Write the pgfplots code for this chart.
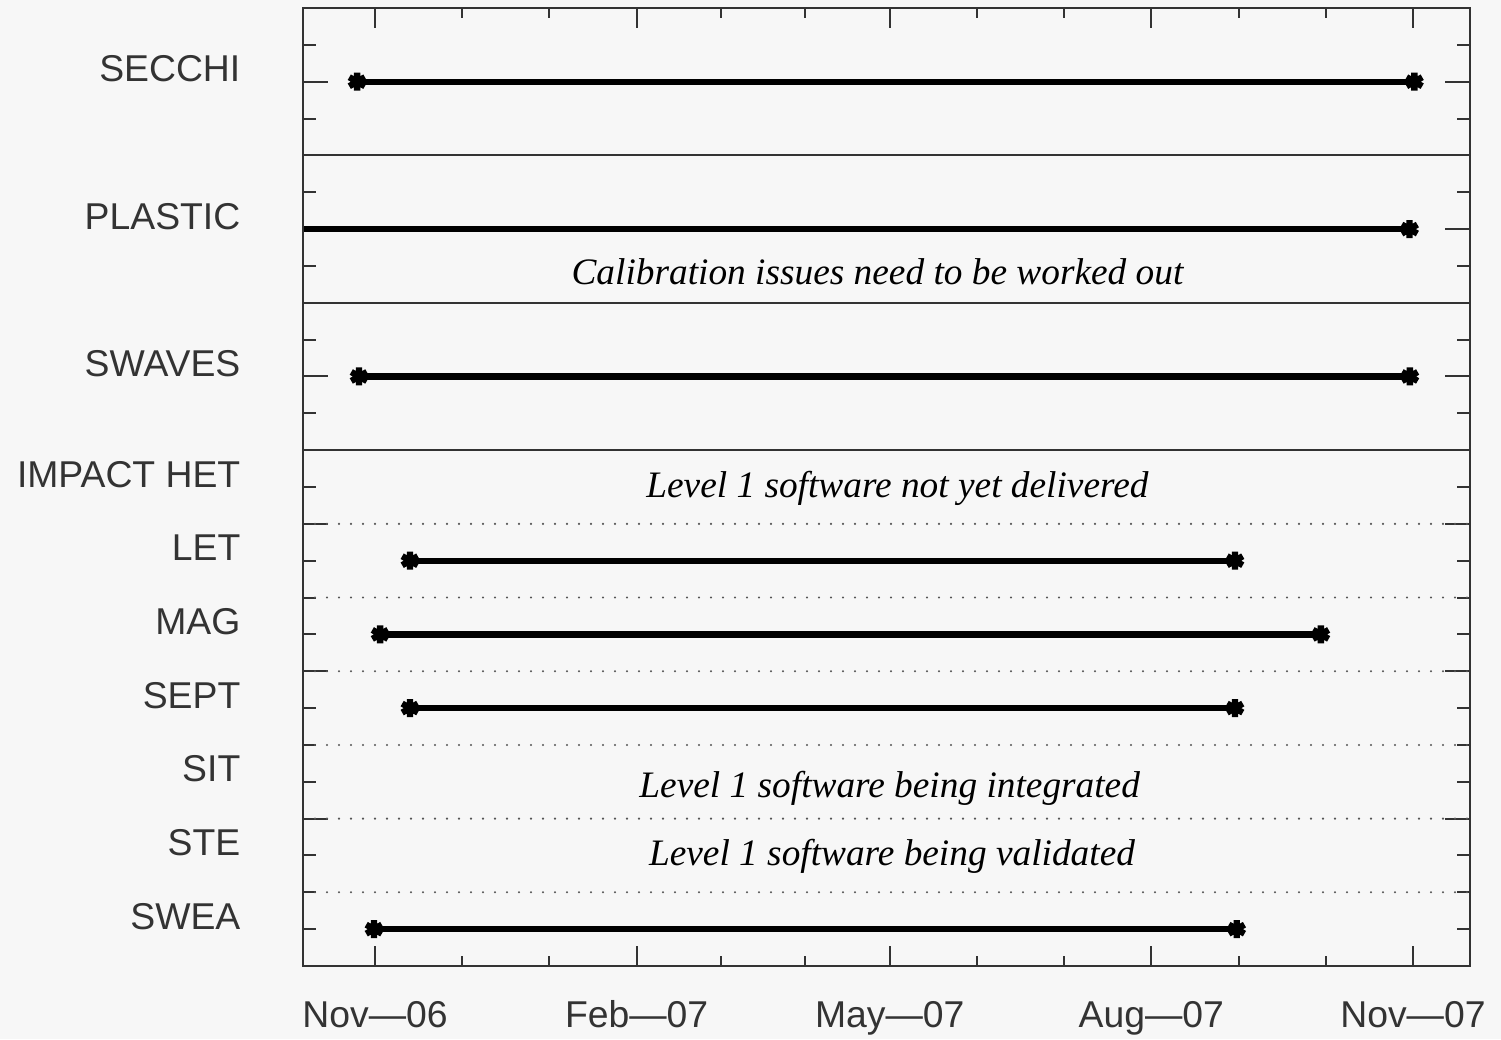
\documentclass[border=0pt]{standalone}
\usepackage{pgfplots}
\pgfplotsset{compat=1.18}
\usepackage{fontspec}
\setmainfont{Liberation Serif}
\newfontfamily\labfont{Liberation Sans}
\definecolor{bg}{HTML}{F7F7F7}
\definecolor{fr}{HTML}{333333}
\definecolor{dotc}{HTML}{555555}

\pgfplotsset{
  bar/.style={black, line width=1.9pt, mark=asterisk, mark size=2.7pt, mark options={solid}},
  sepline/.style={fr, line width=0.6pt, forget plot},
  dotline/.style={dotc, line width=0.7pt, line cap=round, dash pattern=on 0pt off 3.6pt, forget plot},
}

\begin{document}
\begin{tikzpicture}
\path[fill=bg, use as bounding box] (-90.9pt,-21.9pt) rectangle (359.4pt,289.8pt);

% axis with data and y ticks
\begin{axis}[
  scale only axis, width=350.1pt, height=287.4pt,
  xmin=-25.32, xmax=385.05, ymin=0, ymax=13,
  axis line style={fr, line width=0.7pt},
  xtick=\empty,
  ytick={0,2,...,12},
  minor ytick={0.5,1,...,12.5},
  yticklabels={},
  major tick length=7.5pt, minor tick length=3.9pt,
  tick style={fr, line width=0.6pt},
  clip=true,
]
% section separators
\addplot[sepline] coordinates {(-30,7) (400,7)};
\addplot[sepline] coordinates {(-30,9) (400,9)};
\addplot[sepline] coordinates {(-30,11) (400,11)};
\addplot[dotline] coordinates {(-25.32,1) (385.05,1)};
\addplot[dotline] coordinates {(-25.32,2) (385.05,2)};
\addplot[dotline] coordinates {(-25.32,3) (385.05,3)};
\addplot[dotline] coordinates {(-25.32,4) (385.05,4)};
\addplot[dotline] coordinates {(-25.32,5) (385.05,5)};
\addplot[dotline] coordinates {(-25.32,6) (385.05,6)};

% SECCHI
\addplot[bar] coordinates {(-6.3,12) (365.5,12)};
% PLASTIC (starts before the plotted range)
\addplot[bar, mark=none] coordinates {(-40,10) (363.8,10)};
\addplot[bar, only marks] coordinates {(363.8,10)};
% SWAVES
\addplot[bar] coordinates {(-5.6,8) (363.9,8)};
% LET
\addplot[bar] coordinates {(12.3,5.5) (302.4,5.5)};
% MAG
\addplot[bar] coordinates {(1.8,4.5) (332.6,4.5)};
% SEPT
\addplot[bar] coordinates {(12.3,3.5) (302.4,3.5)};
% SWEA
\addplot[bar] coordinates {(-0.35,0.5) (303.0,0.5)};
\end{axis}

% axis with x ticks, labels and annotations
\begin{axis}[
  scale only axis, width=350.1pt, height=287.4pt,
  xmin=-25.32, xmax=385.05, ymin=0, ymax=13,
  axis line style={fr, line width=0.7pt},
  xtick={0,92,181,273,365},
  xticklabels={Nov—06,Feb—07,May—07,Aug—07,Nov—07},
  minor xtick={30.67,61.33,121.67,151.33,211.67,242.33,303.67,334.33},
  ytick=\empty,
  major tick length=6pt, minor tick length=3pt,
  tick style={fr, line width=0.6pt},
  xticklabel style={font=\labfont\fontsize{11.2}{13}\selectfont, text=fr, anchor=base, yshift=-18.3pt},
  clip=false,
]
\node[anchor=base east, inner sep=0pt, xshift=-18.6pt, font=\labfont\fontsize{11.2}{13}\selectfont, text=fr] at (axis cs:-25.32,12) {SECCHI};
\node[anchor=base east, inner sep=0pt, xshift=-18.6pt, font=\labfont\fontsize{11.2}{13}\selectfont, text=fr] at (axis cs:-25.32,10) {PLASTIC};
\node[anchor=base east, inner sep=0pt, xshift=-18.6pt, font=\labfont\fontsize{11.2}{13}\selectfont, text=fr] at (axis cs:-25.32,8) {SWAVES};
\node[anchor=base east, inner sep=0pt, xshift=-18.6pt, font=\labfont\fontsize{11.2}{13}\selectfont, text=fr] at (axis cs:-25.32,6.5) {IMPACT HET};
\node[anchor=base east, inner sep=0pt, xshift=-18.6pt, font=\labfont\fontsize{11.2}{13}\selectfont, text=fr] at (axis cs:-25.32,5.5) {LET};
\node[anchor=base east, inner sep=0pt, xshift=-18.6pt, font=\labfont\fontsize{11.2}{13}\selectfont, text=fr] at (axis cs:-25.32,4.5) {MAG};
\node[anchor=base east, inner sep=0pt, xshift=-18.6pt, font=\labfont\fontsize{11.2}{13}\selectfont, text=fr] at (axis cs:-25.32,3.5) {SEPT};
\node[anchor=base east, inner sep=0pt, xshift=-18.6pt, font=\labfont\fontsize{11.2}{13}\selectfont, text=fr] at (axis cs:-25.32,2.5) {SIT};
\node[anchor=base east, inner sep=0pt, xshift=-18.6pt, font=\labfont\fontsize{11.2}{13}\selectfont, text=fr] at (axis cs:-25.32,1.5) {STE};
\node[anchor=base east, inner sep=0pt, xshift=-18.6pt, font=\labfont\fontsize{11.2}{13}\selectfont, text=fr] at (axis cs:-25.32,0.5) {SWEA};

\node[anchor=base, inner sep=0pt, font=\itshape\fontsize{11.2}{13}\selectfont] at (axis cs:176.7,9.25) {Calibration issues need to be worked out};
\node[anchor=base, inner sep=0pt, font=\itshape\fontsize{11.2}{13}\selectfont] at (axis cs:183.7,6.36) {Level 1 software not yet delivered};
\node[anchor=base, inner sep=0pt, font=\itshape\fontsize{11.2}{13}\selectfont] at (axis cs:181.0,2.29) {Level 1 software being integrated};
\node[anchor=base, inner sep=0pt, font=\itshape\fontsize{11.2}{13}\selectfont] at (axis cs:181.8,1.37) {Level 1 software being validated};
\end{axis}
\end{tikzpicture}
\end{document}
